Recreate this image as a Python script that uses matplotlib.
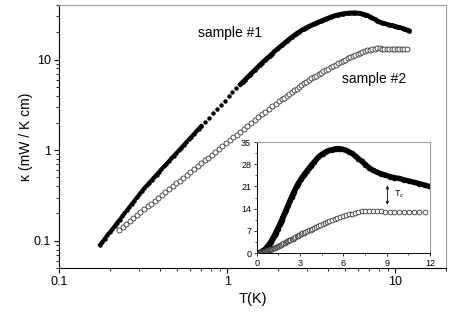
import matplotlib
matplotlib.use("Agg")
import matplotlib.pyplot as plt
from matplotlib.ticker import NullFormatter, MultipleLocator

plt.rcParams['font.family'] = ['Liberation Sans', 'DejaVu Sans']

# sample #1 : T (K), kappa (mW / K cm)
T1 = [0.175, 0.181, 0.187, 0.193, 0.200, 0.207, 0.214, 0.221, 0.229, 0.237,
      0.245, 0.253, 0.262, 0.271, 0.280, 0.290, 0.300, 0.310, 0.321, 0.332,
      0.343, 0.355, 0.367, 0.380, 0.393, 0.406, 0.420, 0.435, 0.450, 0.465,
      0.481, 0.498, 0.515, 0.533, 0.551, 0.570, 0.590, 0.610, 0.631, 0.653,
      0.676, 0.700,
      0.739, 0.779, 0.822, 0.867, 0.915, 0.965, 1.018, 1.074, 1.133, 1.195,
      1.235, 1.277, 1.320, 1.365, 1.412, 1.460, 1.510, 1.561, 1.614, 1.669,
      1.726, 1.785, 1.846, 1.909, 1.974, 2.041, 2.110, 2.182, 2.256, 2.333,
      2.412, 2.494, 2.579, 2.667, 2.758, 2.852, 2.949, 3.049, 3.153, 3.260,
      3.371, 3.486, 3.605, 3.728, 3.855, 3.986, 4.12, 4.26, 4.41, 4.56,
      4.71, 4.87, 5.04, 5.21, 5.39, 5.57, 5.76, 5.96, 6.16, 6.37,
      6.59, 6.81, 7.04, 7.28, 7.53, 7.79, 8.05, 8.33, 8.61, 8.90,
      9.21, 9.52, 9.85, 10.18, 10.53, 10.89, 11.26, 11.64, 12.04]
K1 = [0.0900, 0.0975, 0.1057, 0.1145, 0.1241, 0.1345, 0.1457, 0.1579, 0.1711, 0.1854,
      0.2009, 0.2177, 0.2359, 0.2556, 0.2770, 0.3001, 0.3252, 0.3524, 0.3819, 0.409,
      0.438, 0.469, 0.502, 0.538, 0.576, 0.617, 0.661, 0.708, 0.758, 0.812,
      0.870, 0.931, 0.997, 1.068, 1.144, 1.225, 1.312, 1.405, 1.505, 1.612,
      1.726, 1.849,
      2.058, 2.291, 2.550, 2.838, 3.159, 3.516, 3.91, 4.34, 4.81, 5.32,
      5.66, 6.02, 6.41, 6.81, 7.25, 7.71, 8.20, 8.73, 9.24, 9.78,
      10.35, 10.96, 11.60, 12.28, 13.00, 13.69, 14.42, 15.18, 15.99, 16.84,
      17.65, 18.49, 19.38, 20.1, 21.0, 21.8, 22.5, 23.2, 23.9, 24.6,
      25.3, 26.0, 26.7, 27.4, 28.1, 28.8, 29.5, 30.2, 30.8, 31.3,
      31.7, 32.1, 32.4, 32.6, 32.8, 32.9, 32.9, 32.7, 32.4, 32.0,
      31.4, 30.7, 29.8, 28.9, 27.9, 26.9, 26.1, 25.5, 25.0, 24.6,
      24.1, 23.8, 23.5, 23.1, 22.7, 22.3, 21.9, 21.4, 20.9]

# sample #2
T2 = [0.228, 0.239, 0.251, 0.264, 0.277, 0.291, 0.305, 0.320, 0.336, 0.353,
      0.371, 0.389, 0.409, 0.429, 0.451, 0.473, 0.497, 0.522, 0.548, 0.575,
      0.604, 0.634, 0.666, 0.699, 0.734, 0.771, 0.809, 0.850, 0.892, 0.937,
      0.984, 1.033, 1.085, 1.139, 1.196, 1.256, 1.318, 1.384, 1.454, 1.526,
      1.603, 1.683, 1.767, 1.855, 1.948, 2.045,
      2.115, 2.187, 2.261, 2.338, 2.417, 2.499, 2.584, 2.672, 2.763, 2.857,
      2.954, 3.054, 3.158, 3.265, 3.376, 3.491, 3.610, 3.733, 3.860, 3.991,
      4.13, 4.27, 4.41, 4.56, 4.72, 4.88, 5.04, 5.21, 5.39, 5.57,
      5.76, 5.96, 6.16, 6.37, 6.59, 6.81, 7.04, 7.28, 7.53, 7.79,
      8.05, 8.33, 8.61, 8.90, 9.21, 9.52, 9.85, 10.18, 10.53, 10.89,
      11.26, 11.64]
K2 = [0.133, 0.1431, 0.1540, 0.1656, 0.1782, 0.1917, 0.2063, 0.2220, 0.2388, 0.2569,
      0.2764, 0.2974, 0.3200, 0.3443, 0.3704, 0.3985, 0.4288, 0.4613, 0.4963, 0.5340,
      0.5745, 0.6181, 0.6650, 0.7155, 0.7698, 0.8282, 0.8911, 0.9587, 1.0315, 1.1098,
      1.194, 1.285, 1.382, 1.487, 1.600, 1.721, 1.852, 1.993, 2.144, 2.307,
      2.482, 2.657, 2.845, 3.046, 3.262, 3.492,
      3.63, 3.78, 3.95, 4.15, 4.35, 4.56, 4.78, 5.01, 5.24, 5.48,
      5.72, 5.96, 6.18, 6.41, 6.65, 6.89, 7.14, 7.40, 7.67, 7.94,
      8.22, 8.51, 8.80, 9.10, 9.40, 9.70, 10.0, 10.3, 10.65, 10.95,
      11.3, 11.6, 11.9, 12.2, 12.45, 12.7, 12.9, 13.1, 13.2, 13.25,
      13.25, 13.2, 13.1, 13.05, 13.0, 13.0, 13.0, 13.0, 13.0, 13.0,
      13.0, 13.0]

grey = '#a0a0a0'

fig = plt.figure(figsize=(4.63, 3.21), dpi=100)
ax = fig.add_axes([0.1274, 0.1651, 0.836, 0.8193])

# sample #1 measured densely below 0.7 K and above 1.2 K, sparser in between
ax.plot(T1[:42], K1[:42], '-o', lw=2.6, ms=3.2, color='black', mew=0)
ax.plot(T1[41:52], K1[41:52], 'o', ms=3.2, color='black', mew=0)
ax.plot(T1[51:], K1[51:], '-o', lw=3.2, ms=3.4, color='black', mew=0)
ax.plot(T2, K2, 'o', ms=3.6, mfc='white', mec='#333333', mew=0.6, ls='none')

ax.set_xscale('log')
ax.set_yscale('log')
ax.set_xlim(0.1, 20)
ax.set_ylim(0.05, 40)
ax.set_xticks([0.1, 1, 10])
ax.set_xticklabels(['0.1', '1', '10'])
ax.set_yticks([0.1, 1, 10])
ax.set_yticklabels(['0.1', '1', '10'])
ax.xaxis.set_minor_formatter(NullFormatter())
ax.yaxis.set_minor_formatter(NullFormatter())
ax.tick_params(which='major', direction='out', length=3.5, width=0.8, labelsize=9, pad=2)
ax.tick_params(which='minor', direction='out', length=2, width=0.6)
ax.spines['top'].set_color(grey)
ax.spines['right'].set_color(grey)
ax.set_xlabel('T(K)', fontsize=10.5, labelpad=3)
ax.set_ylabel('κ (mW / K cm)', fontsize=10, labelpad=1)

ax.text(1.04, 19.6, 'sample #1', fontsize=10, ha='center', va='center')
ax.text(7.5, 6.1, 'sample #2', fontsize=10, ha='center', va='center')

# inset: linear scale
ins = fig.add_axes([0.5544, 0.2118, 0.3743, 0.3458])
ins.plot(T1, K1, '-o', lw=3.8, ms=4.0, color='black', mew=0)
ins.plot(T2, K2, 'o', ms=3.4, mfc='white', mec='#333333', mew=0.6, ls='none')
ins.set_xlim(0, 12)
ins.set_ylim(0, 35)
ins.set_xticks([0, 3, 6, 9, 12])
ins.set_yticks([0, 7, 14, 21, 28, 35])
ins.xaxis.set_minor_locator(MultipleLocator(1.5))
ins.yaxis.set_minor_locator(MultipleLocator(3.5))
ins.tick_params(which='major', direction='out', length=2.5, width=0.6, labelsize=6.5, pad=1.5)
ins.tick_params(which='minor', direction='out', length=1.5, width=0.5)
ins.spines['top'].set_color(grey)
ins.spines['right'].set_color(grey)
for s in ['left', 'bottom']:
    ins.spines[s].set_linewidth(0.7)

ins.annotate('', xy=(9.05, 15.2), xytext=(9.05, 21.3),
             arrowprops=dict(arrowstyle='<->', lw=0.6, color='black',
                             mutation_scale=5, shrinkA=0, shrinkB=0))
ins.text(9.5, 18.6, 'T$_c$', fontsize=6.5, ha='left', va='center')

fig.savefig('out.png', dpi=100)
